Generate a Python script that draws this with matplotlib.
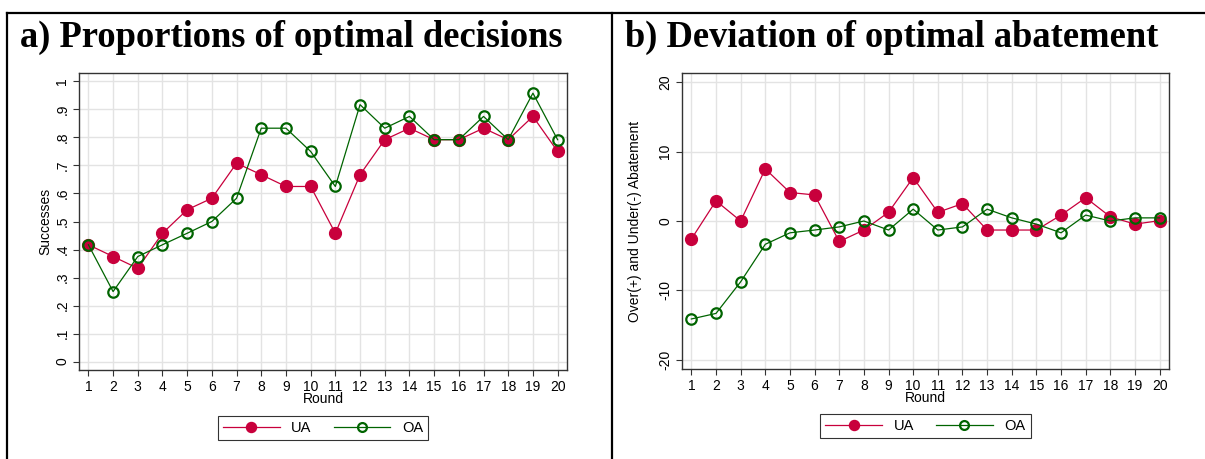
import matplotlib.pyplot as plt
from matplotlib.lines import Line2D

plt.rcParams['font.family'] = ['Liberation Sans', 'DejaVu Sans']

rounds = list(range(1, 21))

# a) share of optimal decisions per round
succ_ua = [0.417, 0.375, 0.333, 0.458, 0.542, 0.583, 0.708, 0.667, 0.625, 0.625,
           0.458, 0.667, 0.792, 0.833, 0.792, 0.792, 0.833, 0.792, 0.875, 0.750]
succ_oa = [0.417, 0.250, 0.375, 0.417, 0.458, 0.500, 0.583, 0.833, 0.833, 0.750,
           0.625, 0.917, 0.833, 0.875, 0.792, 0.792, 0.875, 0.792, 0.958, 0.792]

# b) over(+)/under(-) abatement relative to the optimum
dev_ua = [-2.6, 2.9, 0.0, 7.5, 4.1, 3.75, -2.95, -1.3, 1.25, 6.25,
          1.25, 2.5, -1.3, -1.3, -1.3, 0.85, 3.35, 0.6, -0.45, 0.05]
dev_oa = [-14.1, -13.3, -8.75, -3.35, -1.7, -1.3, -0.85, 0.0, -1.3, 1.7,
          -1.3, -0.85, 1.7, 0.45, -0.45, -1.7, 0.85, 0.0, 0.45, 0.45]

succ_ticks = [i / 10 for i in range(11)]
succ_labels = ['0'] + ['.%d' % i for i in range(1, 10)] + ['1']
dev_ticks = [-20, -10, 0, 10, 20]

RED = '#C8003C'
GREEN = '#006400'

W, H = 1205, 459
fig = plt.figure(figsize=(W / 100, H / 100), dpi=100)


def px_axes(x0, y0, x1, y1):
    return fig.add_axes([x0 / W, 1 - y1 / H, (x1 - x0) / W, (y1 - y0) / H])


def draw_panel(ax, ua, oa, yticks, ylabels, ylim, ylabel, ypad):
    ax.plot(rounds, ua, color=RED, lw=0.9, marker='o', ms=8.5,
            mfc=RED, mec=RED, label='UA', zorder=3)
    ax.plot(rounds, oa, color=GREEN, lw=0.9, marker='o', ms=7.5,
            mfc='none', mec=GREEN, mew=1.6, label='OA', zorder=4)
    ax.set_xlim(0.62, 20.38)
    ax.set_ylim(*ylim)
    ax.set_xticks(rounds)
    ax.set_yticks(yticks)
    ax.set_yticklabels(ylabels, rotation=90, va='center')
    ax.grid(True, color='#E3E3E3', lw=1.0)
    ax.set_axisbelow(True)
    ax.tick_params(direction='out', length=4, width=0.8, labelsize=10,
                   color='#333333', pad=3)
    for s in ax.spines.values():
        s.set_color('#333333')
        s.set_linewidth(1.0)
    ax.set_xlabel('Round', fontsize=10, labelpad=-1)
    ax.set_ylabel(ylabel, fontsize=10, labelpad=ypad)


ax1 = px_axes(79, 73, 567, 370)
draw_panel(ax1, succ_ua, succ_oa, succ_ticks, succ_labels, (-0.03, 1.03),
           'Successes', 2)

ax2 = px_axes(682, 73, 1169, 369)
draw_panel(ax2, dev_ua, dev_oa, dev_ticks, [str(t) for t in dev_ticks], (-21.3, 21.3),
           'Over(+) and Under(-) Abatement', 12)

for ax, ly in ((ax1, 428), (ax2, 426)):
    h, l = ax.get_legend_handles_labels()
    bb = ax.get_position()
    leg = fig.legend(h, l, loc='center', ncol=2, fontsize=10.5,
                     bbox_to_anchor=((bb.x0 + bb.x1) / 2, 1 - ly / H),
                     frameon=True, fancybox=False, handlelength=3.9,
                     columnspacing=1.5, handletextpad=0.8, borderpad=0.35,
                     edgecolor='black', markerscale=0.85)
    leg.get_frame().set_linewidth(0.8)

# table-style frame around the two panels
fig.add_artist(Line2D([7 / W, 1], [1 - 12.5 / H] * 2, color='black', lw=1.6))
fig.add_artist(Line2D([7.5 / W] * 2, [0, 1 - 12.5 / H], color='black', lw=1.6))
fig.add_artist(Line2D([612 / W] * 2, [0, 1 - 12.5 / H], color='black', lw=1.6))

fig.text(20 / W, 1 - 47 / H, 'a) Proportions of optimal decisions',
         family='Liberation Serif', weight='bold', fontsize=26.3, va='baseline')
fig.text(625 / W, 1 - 47 / H, 'b) Deviation of optimal abatement',
         family='Liberation Serif', weight='bold', fontsize=26.3, va='baseline')

fig.savefig('out.png', dpi=100)
